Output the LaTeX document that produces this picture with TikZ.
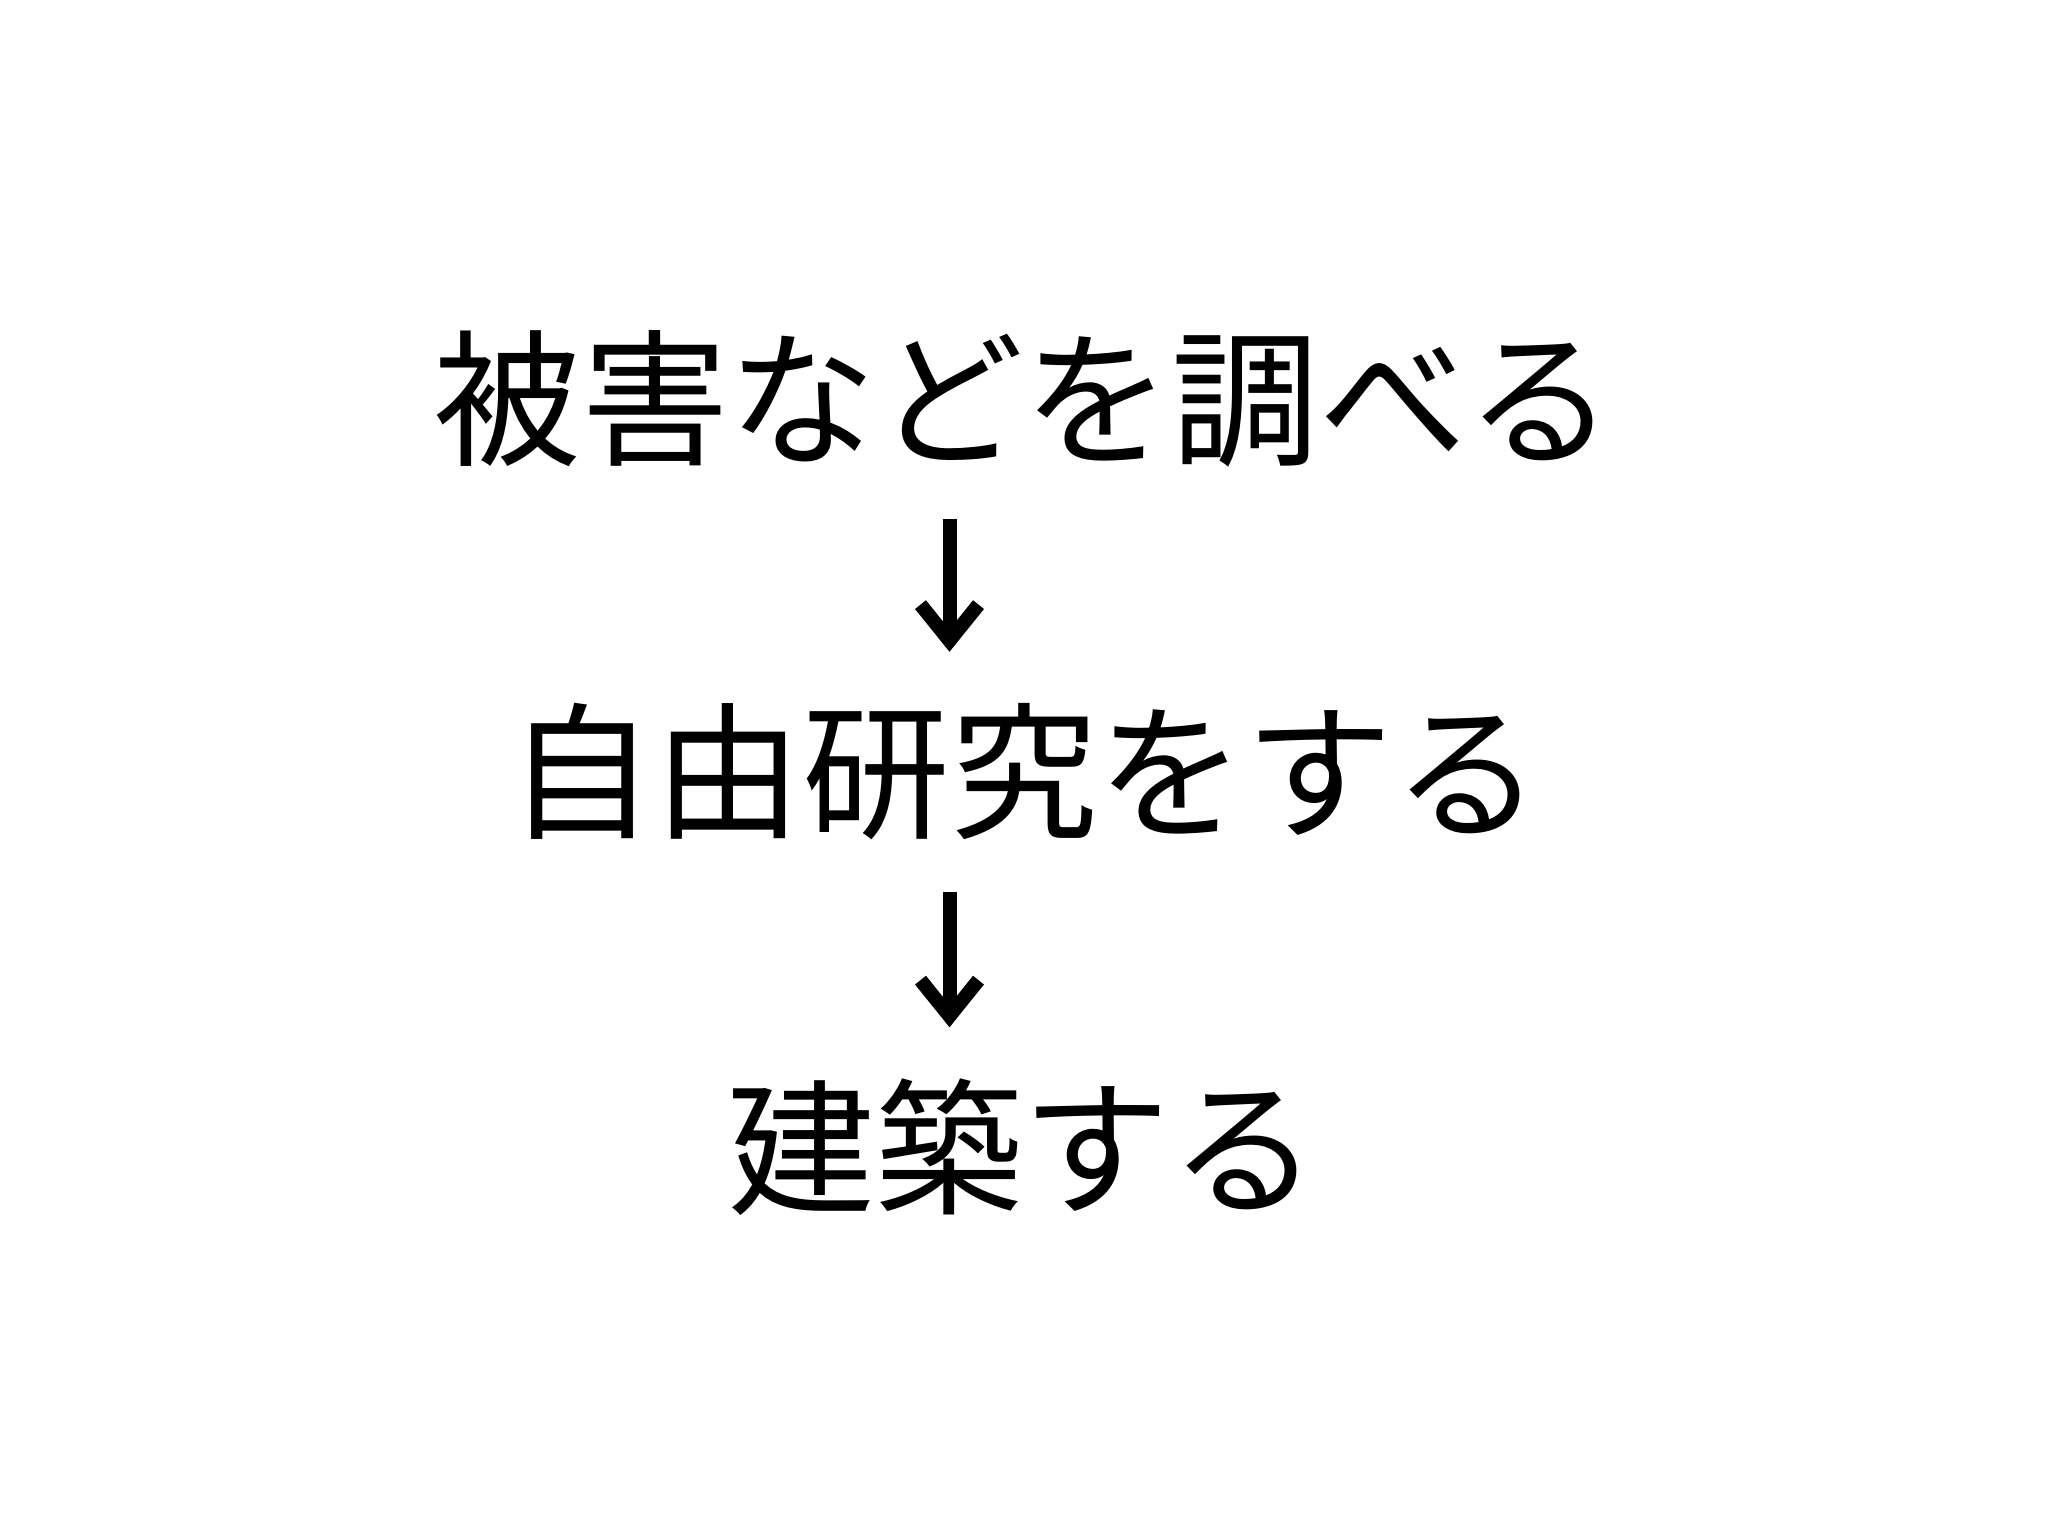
\documentclass[tikz,border=0pt]{standalone}
\usepackage{fontspec}
\usepackage{tikz}
\usetikzlibrary{arrows.meta}
\newfontfamily\jpfont{Noto Sans CJK JP}

\begin{document}
\begin{tikzpicture}[
  line/.style={anchor=base, inner sep=0pt, text height=12.4mm, text depth=1.4mm,
    font=\jpfont\fontsize{42}{50}\selectfont},
  flow/.style={line width=1.4mm, -{Straight Barb[length=3.6mm,width=5.8mm]},
    shorten <=5.0mm, shorten >=5.1mm}]
\useasboundingbox (0,0) rectangle (20.48,-15.36);
\node[line] (step1) at (10.24,-4.545) {被害などを調べる};
\node[line] (step2) at (10.24,-8.275) {自由研究をする};
\node[line] (step3) at (10.23,-12.03) {建築する};
\coordinate (ax) at (9.495,0);
\draw[flow] (step1.south -| ax) -- (step2.north -| ax);
\draw[flow] (step2.south -| ax) -- (step3.north -| ax);
\end{tikzpicture}
\end{document}
